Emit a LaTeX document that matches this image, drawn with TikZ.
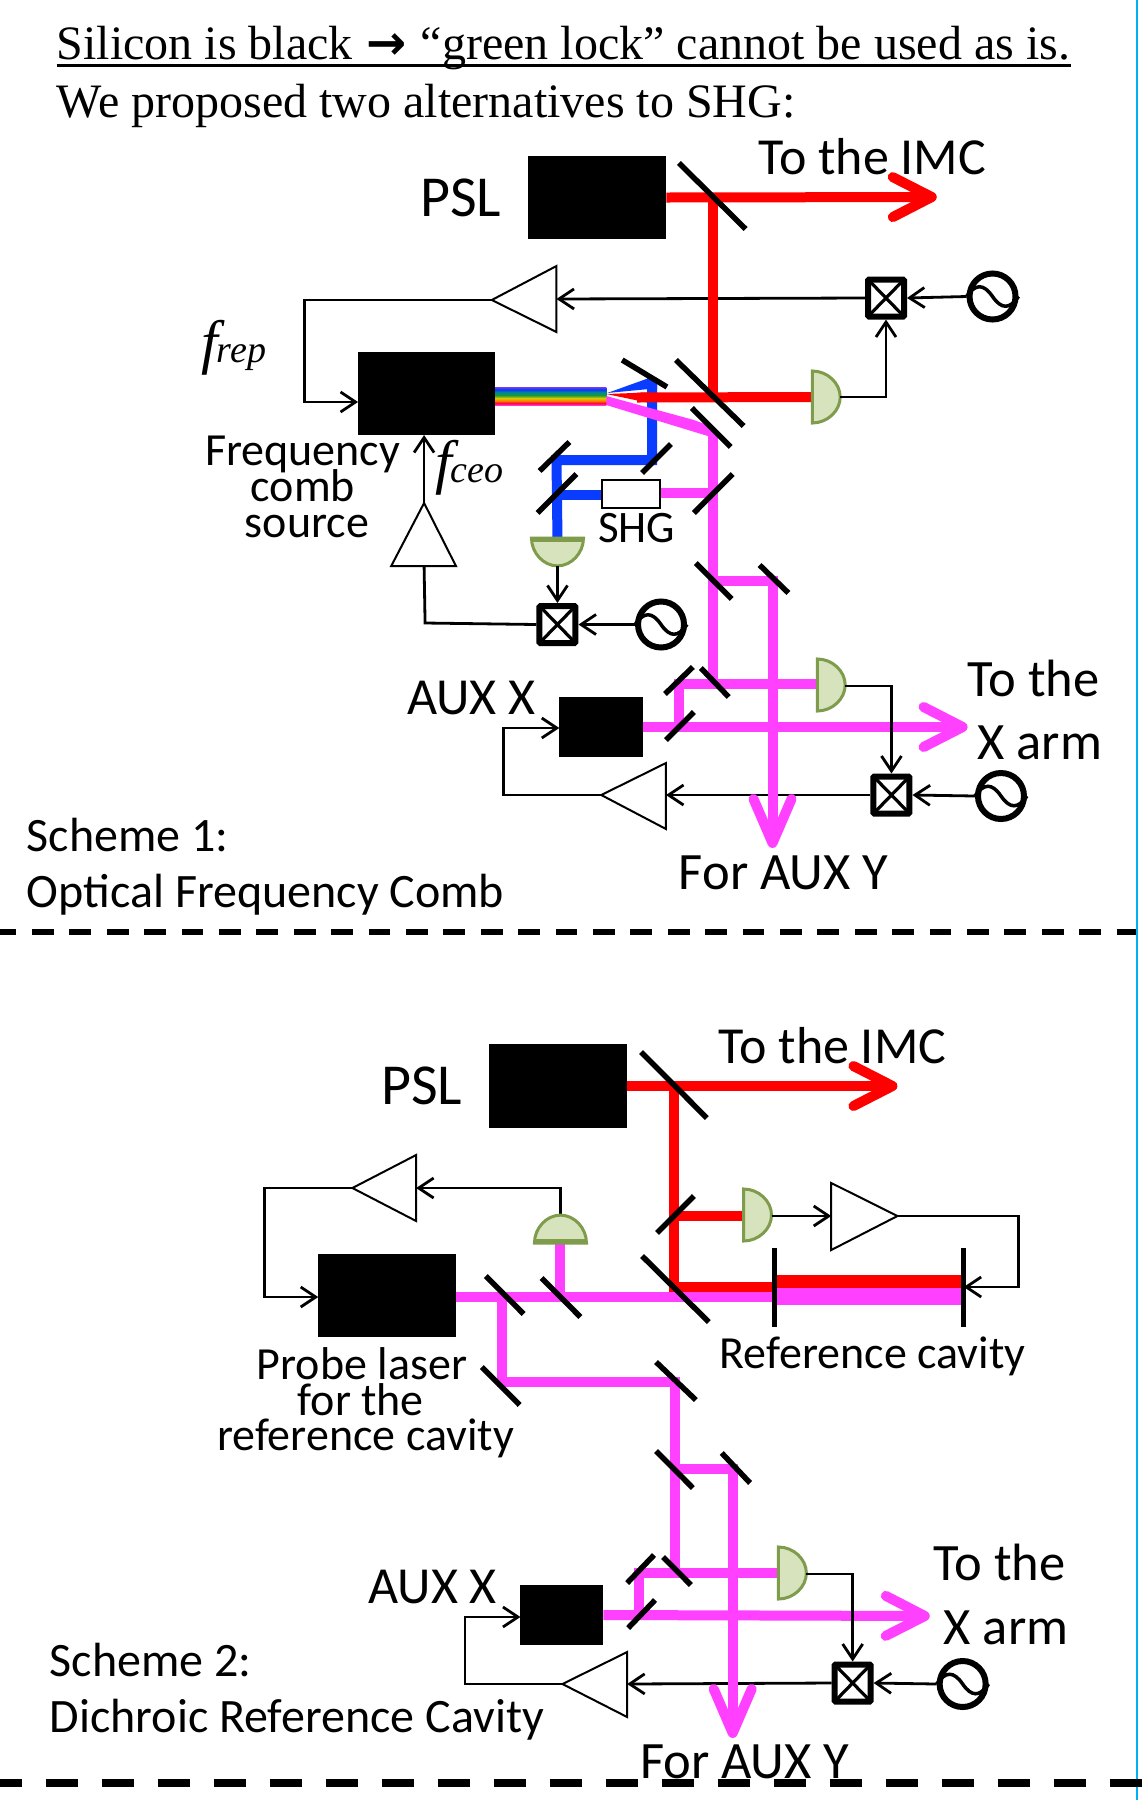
\documentclass[tikz,border=0pt]{standalone}
\usepackage{fontspec}
\setmainfont{Carlito}
\newfontfamily\tms{Liberation Serif}
\newfontfamily\djv{DejaVu Sans}
\usetikzlibrary{arrows.meta}
\pgfdeclarelayer{back}
\pgfsetlayers{back,main}
\definecolor{beamred}{HTML}{FF0000}
\definecolor{beammag}{HTML}{FF40FF}
\definecolor{beamblue}{HTML}{0A3CFF}
\definecolor{detfill}{HTML}{D7E3BC}
\definecolor{detline}{HTML}{7F9B4C}
\definecolor{edge}{HTML}{00B0F0}
\pgfdeclareverticalshading{rainbowbeam}{100bp}{
 rgb(0bp)=(1,.2,.8); rgb(25bp)=(1,.2,.8); rgb(30bp)=(1,0,.2); rgb(37bp)=(1,.5,0);
 rgb(44bp)=(.85,.8,0); rgb(52bp)=(.1,.6,.2); rgb(60bp)=(0,.55,.55); rgb(68bp)=(.05,.2,1);
 rgb(75bp)=(.45,.25,.9); rgb(100bp)=(.45,.25,.9)}
\tikzset{
 x=0.9955pt,y=-1pt,
 lab/.style={anchor=base west,inner sep=0pt,outer sep=0pt,font=\fontsize{#1}{#1}\selectfont},
 serif/.style={anchor=base west,inner sep=0pt,outer sep=0pt,font=\tms\fontsize{#1}{#1}\selectfont},
 blackbox/.style={fill=black,inner sep=0pt,outer sep=0pt,minimum width=#1},
 mixer/.style={draw=black,fill=white,line width=6pt,rounded corners=1pt,inner sep=0pt,minimum width=36pt,minimum height=37pt,
   path picture={\draw[line width=3.2pt] (path picture bounding box.north west) -- (path picture bounding box.south east)
      (path picture bounding box.north east) -- (path picture bounding box.south west);}},
 osc/.style={draw=black,fill=white,circle,line width=6pt,inner sep=0pt,minimum size=46pt},
 wave/.style={line width=3.5pt},
 sig/.style={line width=2.8pt,black},
 sigtip/.style={sig,-{Straight Barb[length=15pt,width=20pt,line width=2.8pt]}},
 mirror/.style={line width=5.5pt,black},
 ampshape/.style={draw=black,fill=white,line width=2pt,line join=miter},
 detshape/.style={draw=detline,fill=detfill,line width=3pt},
 beam/.style={line width=10pt,line join=miter},
 beamtip/.style={line width=10pt,-{Straight Barb[round,length=39pt,width=40pt,line width=10pt]}},
 beamtipv/.style={line width=10pt,-{Straight Barb[round,length=44pt,width=38pt,line width=10pt]}},
 det/.pic={\draw[detshape] (0,-26) .. controls (15,-26) and (28,-14) .. (28,0) .. controls (28,14) and (15,26) .. (0,26) -- cycle;},
 detbar/.pic={\draw[detshape] (0,-26) .. controls (15,-26) and (28,-14) .. (28,0) .. controls (28,14) and (15,26) .. (0,26) -- cycle;
    \draw[detshape] (3,-26) -- (3,26);},
 cutdash/.style={black,line width=6pt,dash pattern=on 21.7pt off 15.7pt,dash phase=5.4pt},
 cutdashb/.style={black,line width=8pt,dash pattern=on 32pt off 24pt,dash phase=10.5pt},
}
\newcommand{\sinewave}[1]{\draw[wave] (#1.west) .. controls +(9,-13) and +(-9,-13) .. (#1.center) .. controls +(9,13) and +(-9,13) .. (#1.east);}
\begin{document}
\begin{tikzpicture}
\useasboundingbox (0,0) rectangle (1150.18,1800);
\begin{pgfonlayer}{back}
\fill[white] (0,0) rectangle (1150.18,1800);
\end{pgfonlayer}
%% page edge
\coordinate (et) at (1142.5,0); \coordinate (eb) at (1142.5,1800);
\draw[edge,line width=2pt] (et) -- (eb);
%% heading
\node[serif=48] (t1) at (57,59) {Silicon is black\kern2pt{} {\djv\bfseries\fontsize{48}{48}\selectfont →}\kern2pt{} “green lock” cannot be used as is.};
\coordinate (ula) at (57,65); \coordinate (ulb) at (1076,65);
\draw[black,line width=3pt] (ula) -- (ulb);
\node[serif=48] (t2) at (57,117) {We proposed two alternatives to SHG:};

%%%%%%%%%% SCHEME 1
\node[blackbox=138pt,minimum height=83pt] (psl1) at (600,197.5) {};
\node[blackbox=137pt,minimum height=83pt] (comb) at (428.5,393.5) {};
\node[blackbox=84pt,minimum height=60pt] (aux1) at (604,727) {};
\node[draw=black,fill=white,line width=1.5pt,inner sep=0pt,minimum width=58pt,minimum height=28pt] (shg) at (634,494) {};
\node[mixer] (mx1) at (890,298) {};
\node[mixer] (mx2) at (560,624.5) {};
\node[mixer] (mx3) at (895.5,795) {};
\node[osc] (os1) at (997,296.5) {};
\node[osc] (os2) at (664,624.5) {};
\node[osc] (os3) at (1005.5,796) {};
\sinewave{os1} \sinewave{os2} \sinewave{os3}
% amplifiers
\coordinate (a1o) at (494,300); \coordinate (a1i) at (559,299);
\draw[ampshape] (a1o) -- (559,266) -- (559,332) -- cycle;
\coordinate (a2o) at (426,503); \coordinate (a2i) at (426,566);
\draw[ampshape] (a2o) -- (393,566) -- (458,566) -- cycle;
\coordinate (a3o) at (604,795); \coordinate (a3i) at (669,795);
\draw[ampshape] (a3o) -- (669,763) -- (669,829) -- cycle;
% detectors
\pic at (816,397) {det};
\coordinate (d1) at (816,397); \coordinate (d1o) at (844,397);
\pic[rotate=-90] at (560,538) {detbar};
\coordinate (d2) at (560,538); \coordinate (d2o) at (560,566);
\pic at (821,685) {det};
\coordinate (d3) at (821,685); \coordinate (d3o) at (849,686);
% beam junctions
\coordinate (ra) at (716,198); \coordinate (rb) at (716,397); \coordinate (rc) at (640,397.5);
\coordinate (tip1) at (941,197);
\coordinate (ba) at (655,378); \coordinate (bb) at (655,460); \coordinate (bc) at (559,460);
\coordinate (bd) at (559,495);
\coordinate (mb) at (716,430); \coordinate (mc) at (716,493); \coordinate (md) at (716,581);
\coordinate (me) at (776,581); \coordinate (tip3) at (776,848); \coordinate (mf) at (716,684);
\coordinate (mg) at (682,684); \coordinate (mh) at (682,727); \coordinate (tip2) at (972,727);
\begin{pgfonlayer}{back}
 % feedback
 \draw[sigtip] (mx1.west) -- (a1i);
 \draw[sigtip] (os1.west) -- (mx1.east);
 \coordinate (f1) at (306,300); \coordinate (f2) at (306,402);
 \draw[sigtip] (a1o) -- (f1) -- (f2) -- (comb.west |- f2);
 \draw[sigtip] (a2o) -- (comb.south -| a2o);
 \coordinate (f3) at (427,623);
 \draw[sig] (mx2.west) -- (f3) -- (a2i);
 \draw[sigtip] (os2.west) -- (mx2.east);
 \draw[sigtip] (mx3.west) -- (a3i);
 \draw[sigtip] (os3.west) -- (mx3.east);
 \coordinate (f4) at (506,795); \coordinate (f5) at (506,728);
 \draw[sigtip] (a3o) -- (f4) -- (f5) -- (aux1.west |- f5);
 % beams
 \path[shading=rainbowbeam] (494,387) rectangle (609,405);
 \fill[beamblue] (610,393) -- (652,378) -- (660,378) -- (660,389) -- (652,389) -- cycle;
 \draw[beam,beamblue] (ba) -- (bb) -- (bc) -- (d2);
 \draw[beam,beamblue] (bd) -- (shg.west |- bd);
 \draw[beam,beammag] (shg.east |- mc) -- (mc);
 \fill[beammag] (609,396) -- (697,420) -- (716,427) -- (711,436) -- (609,405) -- cycle;
 \draw[beam,beammag] (mb) -- (mf);
 \draw[beam,beammag] (md) -- (me) -- (776,820);
 \draw[beamtipv,beammag] (me) -- (tip3);
 \draw[beam,beammag] (mh) -- (mg) -- (d3 |- mg);
 \draw[beamtip,beammag] (aux1.east) -- (tip2);
 \fill[beamred] (609,394) -- (650,392.5) -- (650,402.5) -- cycle;
 \draw[beam,beamred] (ra) -- (rb);
 \draw[beam,beamred] (rc) -- (d1);
 \draw[beamtip,beamred] (psl1.east) -- (tip1);
\end{pgfonlayer}
% mirrors scheme 1
\foreach \a/\b/\c/\d in {682/163/749/229, 625/360/670/387, 679/360/747/426, 695/408/734/447, 645/473/674/444,
  542/471/572/442, 540/513/579/474, 697/513/736/474, 699/563/735/599, 763/565/792/593, 668/694/696/667,
  704/668/732/697, 669/740/697/712}{
 \draw[mirror] (\a,\b) -- (\c,\d);
}
\draw[sigtip] (d1o) -| (mx1.south);
\draw[sigtip] (d2o) -- (mx2.north);
\draw[sigtip] (d3o) -| (mx3.north);
% labels scheme 1
\node[lab=52] (l1) at (762,174) {To the IMC};
\node[lab=58] (l2) at (422,216) {PSL};
\node[anchor=base west,inner sep=0pt] (l3) at (202,362) {\tms\fontsize{60}{60}\selectfont\itshape f\kern-1pt\fontsize{38}{38}\selectfont rep};
\node[anchor=base west,inner sep=0pt] (l4) at (437,482) {\tms\fontsize{60}{60}\selectfont\itshape f\kern-1pt\fontsize{38}{38}\selectfont ceo};
\node[lab=46] (l5) at (206,465) {Frequency};
\node[lab=46] (l6) at (252,501) {comb};
\node[lab=46] (l7) at (246,537) {source};
\node[lab=45] (l8) at (601,542) {SHG};
\node[lab=52] (l9) at (409,714) {AUX X};
\node[lab=52.5] (l10) at (972,696) {To the};
\node[lab=52.5] (l11) at (982,759) {X arm};
\node[lab=52.5] (l12) at (682,889) {For AUX Y};
\node[lab=48] (l13) at (27,851) {Scheme 1:};
\node[lab=48] (l14) at (27,907) {Optical Frequency Comb};
\coordinate (cutaL) at (0,932); \coordinate (cutaR) at (1141,932);
\draw[cutdash] (cutaL) -- (cutaR);

%%%%%%%%%% SCHEME 2
\node[blackbox=138pt,minimum height=84pt] (psl2) at (561,1086) {};
\node[blackbox=138pt,minimum height=83pt] (probe) at (389,1295.5) {};
\node[blackbox=83pt,minimum height=60pt] (aux2) at (564.5,1615) {};
\node[mixer] (mx4) at (856.5,1683) {};
\node[osc] (os4) at (967,1684) {};
\sinewave{os4}
\coordinate (a4o) at (901.5,1216); \coordinate (a4i) at (835,1216);
\draw[ampshape] (a4o) -- (835,1183) -- (835,1250) -- cycle;
\coordinate (a5o) at (354,1188); \coordinate (a5i) at (418,1188);
\draw[ampshape] (a5o) -- (418,1155) -- (418,1221) -- cycle;
\coordinate (a6o) at (565,1684); \coordinate (a6i) at (630,1684);
\draw[ampshape] (a6o) -- (630,1652) -- (630,1717) -- cycle;
\pic at (747,1215) {det};
\coordinate (d4) at (747,1216); \coordinate (d4o) at (775,1216);
\pic[rotate=90] at (563,1243) {detbar};
\coordinate (d5) at (563,1243); \coordinate (d5o) at (563,1215);
\pic at (782,1573) {det};
\coordinate (d6) at (782,1573); \coordinate (d6o) at (810,1574);
\coordinate (sa) at (677,1087); \coordinate (sb) at (677,1286.5); \coordinate (sc) at (778,1286.5);
\coordinate (tip4) at (901.5,1086); \coordinate (sd) at (677,1216);
\coordinate (pa) at (778,1297); \coordinate (pb) at (563,1297); \coordinate (pc) at (504,1297);
\coordinate (pd) at (504,1382); \coordinate (pe) at (678,1382); \coordinate (pf) at (678,1573);
\coordinate (pg) at (678,1469); \coordinate (ph) at (736,1469); \coordinate (tip5) at (736,1738);
\coordinate (pi) at (642,1573); \coordinate (pj) at (642,1616); \coordinate (tip6) at (934,1616);
\coordinate (cL) at (778,1248); \coordinate (cLb) at (778,1327);
\coordinate (cR) at (968,1248); \coordinate (cRb) at (968,1327);
\begin{pgfonlayer}{back}
 \coordinate (g1) at (1023,1216); \coordinate (g2) at (1023,1287); \coordinate (g3) at (968,1287);
 \draw[sigtip] (a4o) -- (g1) -- (g2) -- (g3);
 \coordinate (g4) at (563,1188);
 \draw[sigtip] (d5o) -- (g4) -- (a5i);
 \coordinate (g5) at (266,1188); \coordinate (g6) at (266,1297);
 \draw[sigtip] (a5o) -- (g5) -- (g6) -- (probe.west |- g6);
 \draw[sigtip] (mx4.west) -- (a6i);
 \draw[sigtip] (os4.west) -- (mx4.east);
 \coordinate (g7) at (467,1684); \coordinate (g8) at (467,1617);
 \draw[sigtip] (a6o) -- (g7) -- (g8) -- (aux2.west |- g8);
 % beams
 \draw[beam,beammag] (probe.east |- pa) -- (pa);
 \draw[beam,beammag] (pb) -- (d5);
 \draw[beam,beammag] (pc) -- (pd) -- (pe) -- (pf);
 \draw[beam,beammag] (pg) -- (ph) -- (736,1710);
 \draw[beamtipv,beammag] (ph) -- (tip5);
 \draw[beam,beammag] (pj) -- (pi) -- (d6 |- pi);
 \draw[beamtip,beammag] (aux2.east) -- (tip6);
 \fill[beammag] (778,1288) rectangle (968,1305);
 \fill[beamred] (778,1275) rectangle (968,1288);
 \draw[beam,beamred] (sa) -- (sb) -- (sc);
 \draw[beam,beamred] (sd) -- (d4);
 \draw[beamtip,beamred] (psl2.east) -- (tip4);
\end{pgfonlayer}
\foreach \a/\b/\c/\d in {644/1052/710/1118, 660/1233/697/1196, 645/1256/712/1322, 488/1276/526/1314, 544/1278/583/1317,
  484/1367/522/1405, 659/1362/699/1400, 659/1451/696/1488, 725/1453/753.5/1483, 630/1583/657/1555,
  666/1557/694/1585, 631/1628/658/1600}{
 \draw[mirror] (\a,\b) -- (\c,\d);
}
\draw[mirror] (cL) -- (cLb);
\draw[mirror] (cR) -- (cRb);
\draw[sigtip] (d4o) -- (a4i);
\draw[sigtip] (d6o) -| (mx4.north);
\node[lab=52] (m1) at (722,1063) {To the IMC};
\node[lab=58] (m2) at (383,1104) {PSL};
\node[lab=46] (m3) at (723,1368) {Reference cavity};
\node[lab=46] (m4) at (258,1379) {Probe laser};
\node[lab=46] (m5) at (299,1415) {for the};
\node[lab=46] (m6) at (218,1450) {reference cavity};
\node[lab=52] (m7) at (370,1603) {AUX X};
\node[lab=52.5] (m8) at (938,1580) {To the};
\node[lab=52.5] (m9) at (948,1644) {X arm};
\node[lab=48] (m10) at (50,1676) {Scheme 2:};
\node[lab=48] (m11) at (50,1732) {Dichroic Reference Cavity};
\coordinate (cutbL) at (0,1783); \coordinate (cutbR) at (1150.18,1783);
\draw[cutdashb] (cutbL) -- (cutbR);
\node[lab=52.5] (m12) at (643,1778) {For AUX Y};
\end{tikzpicture}
\end{document}
